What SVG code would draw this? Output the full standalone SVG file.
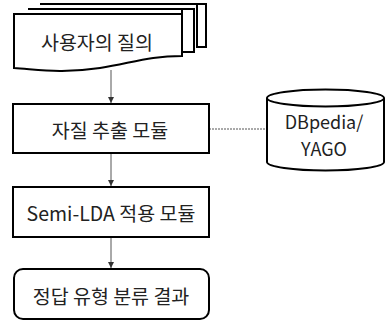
<svg xmlns="http://www.w3.org/2000/svg" width="387" height="323" viewBox="0 0 387 323">
<defs>
<style>
.shape{fill:#fff;stroke:#000;stroke-width:2}
.lbl{font-family:"Noto Sans CJK KR","Noto Sans",sans-serif;font-size:19.5px;fill:#222;text-anchor:middle;dominant-baseline:central}
.db{font-size:18px}
.conn{stroke:#555;stroke-width:1;fill:none}
</style>
<marker id="arr" markerWidth="8" markerHeight="8" refX="6" refY="3" orient="auto" markerUnits="userSpaceOnUse">
<path d="M0,0 L6,3 L0,6 Z" fill="#333"/>
</marker>
</defs>
<rect width="387" height="323" fill="#fff"/>
<g id="connectors">
<line class="conn" x1="111" y1="70" x2="111" y2="103" marker-end="url(#arr)"/>
<line class="conn" x1="111" y1="153" x2="111" y2="186" marker-end="url(#arr)"/>
<line class="conn" x1="111" y1="237" x2="111" y2="268" marker-end="url(#arr)"/>
<line class="conn" x1="209" y1="129" x2="267" y2="129" stroke-dasharray="2,1"/>
</g>
<g id="node-query">
<path class="shape" d="M40,4 H206 V47 L197,47 V4 Z"/>
<path class="shape" d="M28,9 H194 V52 L182,52 V9 Z"/>
<path class="shape" d="M14,14 H182 V56 C150,56 135,62 100,68 C60,74 35,69 14,68 Z"/>
<text class="lbl" x="97" y="41">사용자의 질의</text>
</g>
<g id="node-feature">
<rect class="shape" x="13" y="104" width="196" height="49"/>
<text class="lbl" x="110" y="129">자질 추출 모듈</text>
</g>
<g id="node-db">
<path class="shape" d="M267,98 V162 A58.5,8.5 0 0 0 384,162 V98"/>
<ellipse class="shape" cx="325.5" cy="98" rx="58.5" ry="8.5"/>
<text class="lbl db" x="324" y="121">DBpedia/</text>
<text class="lbl db" x="324" y="148">YAGO</text>
</g>
<g id="node-semilda">
<rect class="shape" x="13" y="187" width="196" height="50"/>
<text class="lbl" x="111" y="212">Semi-LDA 적용 모듈</text>
</g>
<g id="node-result">
<rect class="shape" x="14" y="269" width="195" height="50" rx="9"/>
<text class="lbl" x="111" y="295">정답 유형 분류 결과</text>
</g>
</svg>
